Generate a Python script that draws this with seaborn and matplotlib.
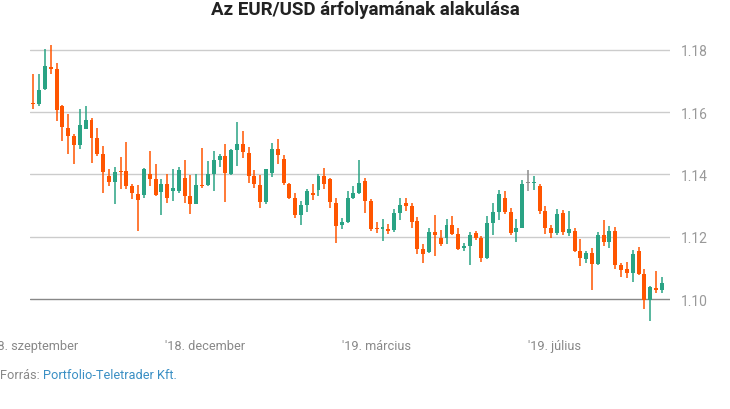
"""
EUR/USD gyertyás ábra (Portfolio-Teletrader adatai alapján).
"""

import matplotlib
matplotlib.use('Agg')
import matplotlib.pyplot as plt
import seaborn as sns
import numpy as np

# ── Adatok ────────────────────────────────────────────────────────────────────
opens = [1.1627, 1.1625, 1.1673, 1.1746, 1.1739, 1.1621, 1.1550, 1.1525, 1.1494, 1.1545,
         1.1576, 1.1518, 1.1467, 1.1394, 1.1375, 1.1410, 1.1410, 1.1362, 1.1336, 1.1334,
         1.1403, 1.1384, 1.1343, 1.1371, 1.1347, 1.1347, 1.1390, 1.1330, 1.1305, 1.1366,
         1.1365, 1.1403, 1.1445, 1.1458, 1.1401, 1.1477, 1.1499, 1.1470, 1.1394, 1.1365,
         1.1311, 1.1404, 1.1483, 1.1451, 1.1371, 1.1323, 1.1270, 1.1301, 1.1342, 1.1350,
         1.1394, 1.1387, 1.1310, 1.1238, 1.1247, 1.1323, 1.1339, 1.1378, 1.1314, 1.1226,
         1.1224, 1.1224, 1.1222, 1.1275, 1.1307, 1.1298, 1.1250, 1.1160, 1.1150, 1.1216,
         1.1195, 1.1195, 1.1237, 1.1208, 1.1165, 1.1171, 1.1211, 1.1195, 1.1132, 1.1244,
         1.1279, 1.1326, 1.1278, 1.1215, 1.1228, 1.1374, 1.1372, 1.1362, 1.1282, 1.1227,
         1.1212, 1.1275, 1.1212, 1.1218, 1.1154, 1.1129, 1.1147, 1.1113, 1.1205, 1.1183,
         1.1218, 1.1109, 1.1096, 1.1084, 1.1154, 1.1080, 1.0996, 1.1037, 1.1030]
highs = [1.1724, 1.1723, 1.1803, 1.1816, 1.1758, 1.1624, 1.1595, 1.1531, 1.1611, 1.1621,
         1.1581, 1.1550, 1.1493, 1.1416, 1.1425, 1.1457, 1.1504, 1.1371, 1.1365, 1.1422,
         1.1475, 1.1435, 1.1387, 1.1403, 1.1419, 1.1424, 1.1446, 1.1398, 1.1403, 1.1486,
         1.1443, 1.1475, 1.1467, 1.1499, 1.1483, 1.1570, 1.1541, 1.1488, 1.1413, 1.1398,
         1.1419, 1.1502, 1.1515, 1.1462, 1.1373, 1.1342, 1.1314, 1.1355, 1.1371, 1.1403,
         1.1422, 1.1389, 1.1326, 1.1259, 1.1346, 1.1362, 1.1448, 1.1390, 1.1320, 1.1249,
         1.1256, 1.1240, 1.1288, 1.1326, 1.1326, 1.1307, 1.1265, 1.1176, 1.1229, 1.1269,
         1.1221, 1.1256, 1.1267, 1.1227, 1.1179, 1.1214, 1.1218, 1.1202, 1.1266, 1.1310,
         1.1349, 1.1346, 1.1291, 1.1256, 1.1381, 1.1413, 1.1394, 1.1371, 1.1298, 1.1237,
         1.1288, 1.1285, 1.1282, 1.1227, 1.1192, 1.1154, 1.1163, 1.1214, 1.1253, 1.1234,
         1.1230, 1.1115, 1.1118, 1.1157, 1.1166, 1.1096, 1.1042, 1.1090, 1.1070]
lows = [1.1609, 1.1619, 1.1670, 1.1724, 1.1571, 1.1507, 1.1465, 1.1433, 1.1481, 1.1545,
        1.1436, 1.1459, 1.1340, 1.1362, 1.1305, 1.1355, 1.1355, 1.1321, 1.1218, 1.1323,
        1.1363, 1.1331, 1.1270, 1.1310, 1.1315, 1.1339, 1.1310, 1.1273, 1.1305, 1.1358,
        1.1364, 1.1347, 1.1424, 1.1311, 1.1398, 1.1428, 1.1452, 1.1372, 1.1357, 1.1293,
        1.1305, 1.1391, 1.1435, 1.1367, 1.1322, 1.1260, 1.1237, 1.1279, 1.1317, 1.1331,
        1.1355, 1.1291, 1.1179, 1.1225, 1.1245, 1.1320, 1.1336, 1.1276, 1.1219, 1.1212,
        1.1187, 1.1208, 1.1215, 1.1254, 1.1283, 1.1227, 1.1145, 1.1117, 1.1147, 1.1139,
        1.1172, 1.1178, 1.1205, 1.1158, 1.1155, 1.1110, 1.1190, 1.1119, 1.1129, 1.1206,
        1.1254, 1.1272, 1.1206, 1.1183, 1.1228, 1.1347, 1.1349, 1.1273, 1.1209, 1.1197,
        1.1206, 1.1206, 1.1203, 1.1150, 1.1107, 1.1115, 1.1030, 1.1110, 1.1171, 1.1164,
        1.1095, 1.1071, 1.1067, 1.1055, 1.1078, 1.0969, 1.0931, 1.1020, 1.1020]
closes = [1.1625, 1.1672, 1.1749, 1.1740, 1.1606, 1.1551, 1.1523, 1.1494, 1.1560, 1.1576,
          1.1516, 1.1467, 1.1407, 1.1375, 1.1408, 1.1408, 1.1363, 1.1340, 1.1318, 1.1416,
          1.1385, 1.1333, 1.1371, 1.1323, 1.1358, 1.1413, 1.1331, 1.1305, 1.1365, 1.1363,
          1.1403, 1.1445, 1.1458, 1.1404, 1.1477, 1.1499, 1.1471, 1.1395, 1.1370, 1.1311,
          1.1416, 1.1483, 1.1462, 1.1372, 1.1324, 1.1270, 1.1301, 1.1346, 1.1333, 1.1394,
          1.1368, 1.1311, 1.1235, 1.1246, 1.1326, 1.1339, 1.1374, 1.1315, 1.1225, 1.1224,
          1.1232, 1.1218, 1.1275, 1.1301, 1.1299, 1.1247, 1.1161, 1.1145, 1.1216, 1.1206,
          1.1177, 1.1237, 1.1208, 1.1161, 1.1169, 1.1207, 1.1196, 1.1132, 1.1243, 1.1278,
          1.1336, 1.1278, 1.1212, 1.1227, 1.1371, 1.1374, 1.1374, 1.1283, 1.1228, 1.1212,
          1.1272, 1.1215, 1.1224, 1.1154, 1.1131, 1.1147, 1.1113, 1.1205, 1.1183, 1.1218,
          1.1110, 1.1094, 1.1084, 1.1144, 1.1081, 1.0996, 1.1038, 1.1030, 1.1051]

tick_pos    = [0, 29.5, 59, 89.5]
tick_labels = ["'18. szeptember", "'18. december", "'19. március", "'19. július"]
y_ticks     = [1.10, 1.12, 1.14, 1.16, 1.18]

UP, DOWN, FLAT = '#2aa384', '#ff5500', '#8c8c8c'

# ── Stílus ────────────────────────────────────────────────────────────────────
sns.set_theme(style='white')
plt.rcParams['font.family'] = ['Roboto', 'DejaVu Sans']

fig = plt.figure(figsize=(7.3, 4.1), dpi=100)
ax = fig.add_axes([30/730, 85/410, 640/730, 290/410])

o = np.array(opens); h = np.array(highs); l = np.array(lows); c = np.array(closes)
x = np.arange(len(o))
colors = np.where(c > o, UP, np.where(c < o, DOWN, FLAT))

# rácsvonalak
for yv in y_ticks:
    ax.axhline(yv, color='#888888' if yv == 1.10 else '#cccccc', lw=1, zorder=0)

# kanócok + testek
ax.vlines(x, l, h, colors=colors, lw=1.1, zorder=2)
bottom = np.minimum(o, c)
height = np.maximum(np.abs(c - o), 0.0003)
ax.bar(x, height, bottom=bottom, width=0.68, color=colors, linewidth=0, zorder=3)

ax.set_xlim(-0.57, 109.4)
ax.set_ylim(1.092, 1.1851)
ax.set_xticks(tick_pos)
ax.set_xticklabels(tick_labels)
ax.set_yticks(y_ticks)
ax.set_yticklabels([f'{v:.2f}' for v in y_ticks])
ax.yaxis.tick_right()
ax.tick_params(axis='y', length=0, pad=7.5, labelsize=10, labelcolor='#999999')
ax.tick_params(axis='x', length=0, pad=10.5, labelsize=9.2, labelcolor='#888888')
sns.despine(ax=ax, left=True, bottom=True, right=True, top=True)
ax.set_facecolor('none')

fig.text(0.5, 1 - 10/410, 'Az EUR/USD árfolyamának alakulása', ha='center', va='center',
         fontsize=13.5, fontweight='bold', color='#222222')

t1 = fig.text(0.0, 1 - 376/410, 'Forrás: ', ha='left', va='center', fontsize=9.2, color='#888888')
fig.canvas.draw()
bb = t1.get_window_extent()
fig.text(bb.x1 / fig.bbox.width, 1 - 376/410, 'Portfolio-Teletrader Kft.', ha='left',
         va='center', fontsize=9.2, color='#3a8fc4')

fig.savefig('out.png', dpi=100)
